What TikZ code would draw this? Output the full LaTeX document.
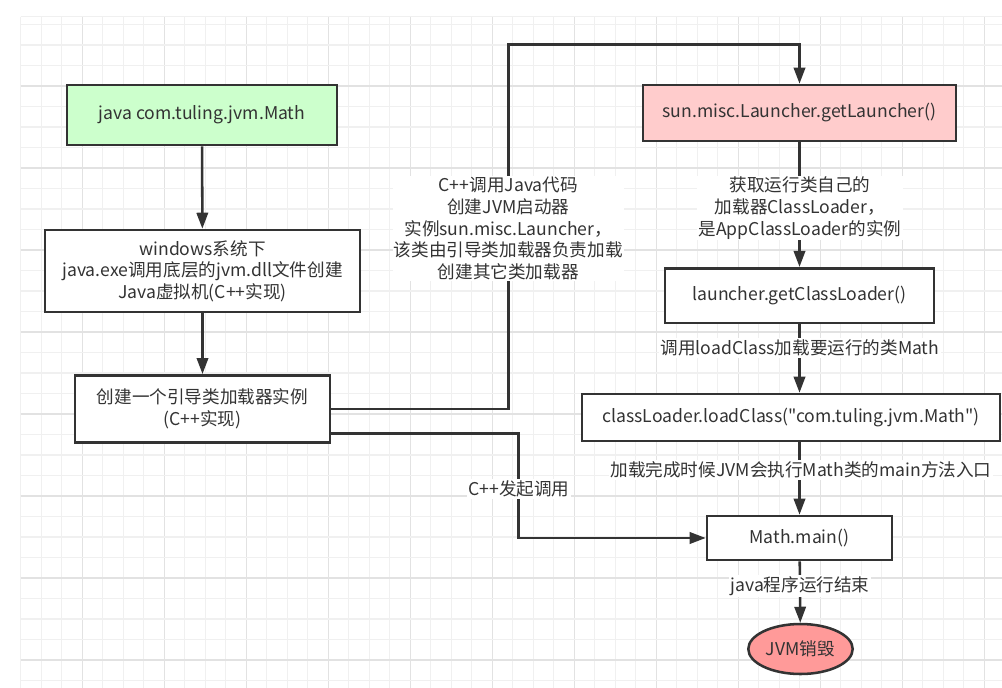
\documentclass[tikz,border=0pt]{standalone}
\usepackage{fontspec}
\newfontfamily\cjk{Noto Sans CJK SC}
\usetikzlibrary{arrows.meta,shapes.geometric}
\definecolor{gridminor}{HTML}{F0F0F0}
\definecolor{gridmajor}{HTML}{E2E2E2}
\definecolor{ink}{HTML}{333333}
\definecolor{greenfill}{HTML}{CCFFCC}
\definecolor{pinkfill}{HTML}{FFCCCC}
\definecolor{redfill}{HTML}{FF9A99}
\tikzset{
  box/.style={draw=ink, line width=1.9pt, rectangle, inner sep=0pt, align=center, text=ink, font=\cjk\fontsize{13.2}{16.2}\selectfont},
  conn/.style={draw=ink, line width=1.9pt, -{Triangle[length=12pt,width=8.5pt]}},
  lbl/.style={fill=white, inner sep=1pt, align=center, text=ink, font=\cjk\fontsize{13.2}{16.2}\selectfont},
}
\begin{document}
\begin{tikzpicture}[x=0.75pt,y=-0.75pt]
\useasboundingbox (0,0) rectangle (1002,688);
\fill[white] (0,0) rectangle (1002,688);
% grid
\foreach \k in {0,...,47}{
  \pgfmathsetmacro{\xx}{20.7+20.5*\k}
  \pgfmathtruncatemacro{\m}{mod(\k,4)}
  \ifnum\m=3 \draw[gridmajor, line width=0.9pt] (\xx,16.7) -- (\xx,688);
  \else \draw[gridminor, line width=0.9pt] (\xx,16.7) -- (\xx,688); \fi
}
\foreach \k in {0,...,32}{
  \pgfmathsetmacro{\yy}{24.5+20.5*\k}
  \pgfmathtruncatemacro{\m}{mod(\k,4)}
  \ifnum\m=3 \draw[gridmajor, line width=0.9pt] (20.7,\yy) -- (1002,\yy);
  \else \draw[gridminor, line width=0.9pt] (20.7,\yy) -- (1002,\yy); \fi
}
\draw[gridminor, line width=0.9pt] (20.7,16.7) -- (1002,16.7);

% nodes
\node[box, fill=greenfill, minimum width=202.5pt, minimum height=45pt] (n1) at (202,115) {java com.tuling.jvm.Math};
\node[box, fill=white, minimum width=236.25pt, minimum height=61.5pt] (n2) at (202.5,271) {windows系统下\\java.exe调用底层的jvm.dll文件创建\\Java虚拟机(C++实现)};
\node[box, fill=white, minimum width=191.25pt, minimum height=50.25pt] (n3) at (202.5,408.8) {创建一个引导类加载器实例\\(C++实现)};
\node[box, fill=pinkfill, minimum width=234.75pt, minimum height=42pt] (n4) at (799.5,113) {sun.misc.Launcher.getLauncher()};
\node[box, fill=white, minimum width=201.75pt, minimum height=40.9pt] (n5) at (799.5,295.5) {launcher.getClassLoader()};
\node[box, fill=white, minimum width=313.5pt, minimum height=35.25pt] (n6) at (791,417.5) {classLoader.loadClass("com.tuling.jvm.Math")};
\node[box, fill=white, minimum width=138.75pt, minimum height=33pt] (n7) at (799.5,538) {Math.main()};
\node[box, ellipse, fill=redfill, minimum width=78.3pt, minimum height=37.5pt] (n8) at (800.5,649) {JVM销毁};

% helper coordinates
\coordinate (c1) at (508.3,44.3);
\coordinate (n3lo) at ([yshift=-18.4pt]n3.east);
\coordinate (c2) at (518.3,538);

% connectors
\draw[conn] (n1) -- (n2);
\draw[conn] (n2) -- (n3);
\draw[conn] (n3.east) -| (c1) -| (n4.north);
\draw[conn] (n3lo) -| (c2) -- (n7.west);
\draw[conn] (n4) -- (n5);
\draw[conn] (n5.south) -- (n5.south |- n6.north);
\draw[conn] (n7.north |- n6.south) -- (n7.north);
\draw[conn] (n7) -- (n8);

% labels
\node[lbl] (l1) at (508.3,228.5) {C++调用Java代码\\创建JVM启动器\\实例sun.misc.Launcher，\\该类由引导类加载器负责加载\\创建其它类加载器};
\node[lbl] (l2) at (800,208) {获取运行类自己的\\加载器ClassLoader，\\是AppClassLoader的实例};
\node[lbl] (l3) at (800,348) {调用loadClass加载要运行的类Math};
\node[lbl] (l4) at (801,470) {加载完成时候JVM会执行Math类的main方法入口};
\node[lbl] (l5) at (519,489) {C++发起调用};
\node[lbl] (l6) at (800,586) {java程序运行结束};
\end{tikzpicture}
\end{document}
